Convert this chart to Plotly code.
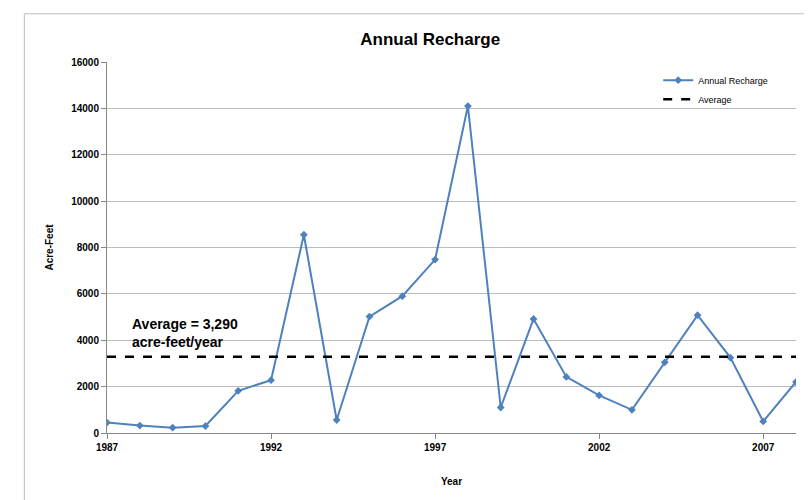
import plotly.graph_objects as go

years = list(range(1987, 2009))
recharge = [450, 320, 230, 300, 1820, 2280, 8550, 560, 5020, 5900, 7480, 14100,
            1100, 4920, 2420, 1620, 1000, 3050, 5080, 3250, 500, 2200]
average = 3290
tick_years = [1987, 1992, 1997, 2002, 2007]

fig = go.Figure()
fig.add_trace(go.Scatter(x=years, y=recharge, mode="lines+markers", name="Annual Recharge",
                         line=dict(color="#4F81BD", width=2),
                         marker=dict(symbol="diamond", size=6, color="#4F81BD")))
fig.add_trace(go.Scatter(x=[years[0], years[-1]], y=[average, average], mode="lines", name="Average",
                         line=dict(color="black", width=2.5, dash="dash")))
fig.add_annotation(x=1987.7, y=4300, xref="x", yref="y", xanchor="left", yanchor="middle",
                   text="<b>Average = 3,290<br>acre-feet/year</b>", showarrow=False, align="left",
                   font=dict(size=14, color="black", family="Arial, Liberation Sans"))
fig.update_layout(
    width=812, height=500, paper_bgcolor="white", plot_bgcolor="white",
    margin=dict(l=99, r=24, t=54, b=75),
    title=dict(text="<b>Annual Recharge</b>", x=0.52, y=0.95, xanchor="center",
               font=dict(size=17, color="black", family="Arial, Liberation Sans")),
    font=dict(family="Arial, Liberation Sans", size=10, color="black"),
    legend=dict(x=0.8, y=0.99, xanchor="left", yanchor="top", bgcolor="rgba(0,0,0,0)",
                font=dict(size=9)),
    shapes=[dict(type="rect", xref="paper", yref="paper", x0=-0.12, x1=1.02, y0=-0.19, y1=1.13,
                 line=dict(color="#BBBBBB", width=1))],
)
fig.update_xaxes(range=[1987, 2008], tickvals=tick_years, showgrid=False, showline=True,
                 linecolor="#888888", ticks="outside", tickcolor="#888888",
                 title=dict(text="<b>Year</b>", font=dict(size=10), standoff=25),
                 tickfont=dict(size=10, weight="bold"))
fig.update_yaxes(range=[0, 16000], dtick=2000, tickformat="d", showgrid=True, gridcolor="#BBBBBB",
                 showline=True, linecolor="#888888", ticks="outside", tickcolor="#888888",
                 title=dict(text="<b>Acre-Feet</b>", font=dict(size=10)),
                 tickfont=dict(size=10, weight="bold"), zeroline=False)
fig.write_html("out.html")
